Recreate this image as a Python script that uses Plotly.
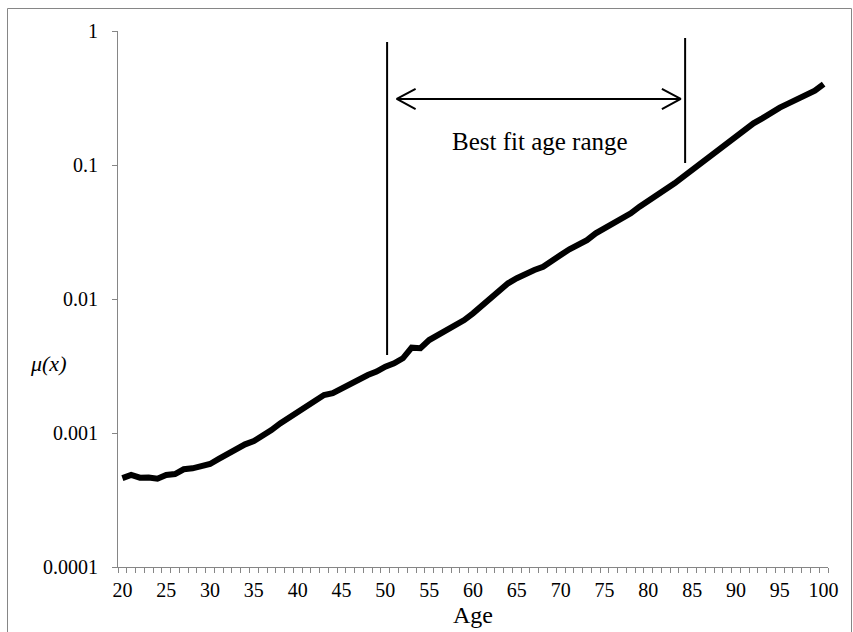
import math
import plotly.graph_objects as go

# ---- data ----
ages = list(range(20, 101))
mu = [
    4.61e-4, 4.86e-4, 4.64e-4, 4.66e-4, 4.56e-4, 4.86e-4, 4.94e-4, 5.36e-4, 5.45e-4, 5.67e-4,  # 20-29
    5.87e-4, 6.40e-4, 6.97e-4, 7.60e-4, 8.23e-4, 8.70e-4, 9.50e-4, 1.05e-3, 1.18e-3, 1.30e-3,  # 30-39
    1.43e-3, 1.58e-3, 1.73e-3, 1.92e-3, 1.98e-3, 2.15e-3, 2.28e-3, 2.49e-3, 2.71e-3, 2.87e-3,  # 40-49
    3.13e-3, 3.31e-3, 3.61e-3, 4.33e-3, 4.29e-3, 4.94e-3, 5.39e-3, 5.87e-3, 6.29e-3, 6.97e-3,  # 50-59
    7.82e-3, 8.90e-3, 9.80e-3, 1.12e-2, 1.31e-2, 1.43e-2, 1.555e-2, 1.645e-2, 1.74e-2, 1.95e-2,  # 60-69
    2.13e-2, 2.35e-2, 2.56e-2, 2.75e-2, 3.09e-2, 3.37e-2, 3.61e-2, 4.00e-2, 4.36e-2, 4.89e-2,  # 70-79
    5.39e-2, 5.92e-2, 6.50e-2, 7.30e-2, 8.18e-2, 9.18e-2, 0.104, 0.1153, 0.129, 0.145,  # 80-89
    0.1627, 0.1825, 0.2047, 0.2231, 0.2455, 0.268, 0.2884, 0.309, 0.333, 0.359,  # 90-99
    0.402,  # 100
]

x_tick_vals = list(range(20, 101, 5))
x_tick_text = [str(v) for v in x_tick_vals]
y_tick_vals = [0.0001, 0.001, 0.01, 0.1, 1]
y_tick_text = ["0.0001", "0.001", "0.01", "0.1", "1"]

# best-fit range markers
fit_start_age = 50.2
fit_end_age = 84.2
fit_start_span = [0.00382, 0.828]
fit_end_span = [0.1035, 0.887]
arrow_from = 51.3
arrow_to = 83.7
arrow_level = 0.311
label_text = "Best fit age range"
label_age = 67.6
label_level = 0.151

FONT = "Liberation Serif"
GRAY = "#868686"

fig = go.Figure()

fig.add_trace(go.Scatter(
    x=ages, y=mu, mode="lines",
    line=dict(color="black", width=6),
    showlegend=False, hoverinfo="skip",
))

# vertical range lines
fig.add_trace(go.Scatter(
    x=[fit_start_age, fit_start_age, None, fit_end_age, fit_end_age],
    y=[fit_start_span[0], fit_start_span[1], None, fit_end_span[0], fit_end_span[1]],
    mode="lines", line=dict(color="black", width=2),
    showlegend=False, hoverinfo="skip",
))

# double-headed arrow with open heads
head_dx = 2.15
head_f = 1.19
fig.add_trace(go.Scatter(
    x=[arrow_from + head_dx, arrow_from, arrow_from + head_dx, None,
       arrow_from, arrow_to, None,
       arrow_to - head_dx, arrow_to, arrow_to - head_dx],
    y=[arrow_level * head_f, arrow_level, arrow_level / head_f, None,
       arrow_level, arrow_level, None,
       arrow_level * head_f, arrow_level, arrow_level / head_f],
    mode="lines", line=dict(color="black", width=2),
    showlegend=False, hoverinfo="skip",
))

L, R, T, B = 118, 25, 31, 65
W, H = 853, 632
pw, ph = W - L - R, H - T - B

def px(xp):
    return (xp - L) / pw

def py(yp):
    return (H - B - yp) / ph

fig.update_layout(
    width=W, height=H,
    margin=dict(l=L, r=R, t=T, b=B, pad=0),
    paper_bgcolor="white", plot_bgcolor="white",
    font=dict(family=FONT, color="black"),
    xaxis=dict(
        range=[19.5, 100.5],
        tickmode="array", tickvals=x_tick_vals, ticktext=x_tick_text,
        ticks="outside", ticklen=5, tickcolor="rgba(0,0,0,0)",
        tickfont=dict(family=FONT, size=20, color="black"),
        showline=True, linecolor=GRAY, linewidth=1,
        showgrid=False, zeroline=False,
        minor=dict(tickmode="linear", tick0=19.5, dtick=1, ticks="outside",
                   ticklen=5, tickcolor=GRAY, tickwidth=1, showgrid=False),
    ),
    yaxis=dict(
        type="log", range=[-4, 0],
        tickmode="array", tickvals=y_tick_vals, ticktext=y_tick_text,
        ticks="outside", ticklen=5, tickcolor=GRAY, tickwidth=1,
        tickfont=dict(family=FONT, size=20, color="black"),
        ticklabelstandoff=10,
        showline=True, linecolor=GRAY, linewidth=1,
        showgrid=False, zeroline=False,
    ),
    shapes=[dict(
        type="rect", xref="paper", yref="paper",
        x0=px(7.5), x1=px(851.5), y0=py(645), y1=py(8.5),
        line=dict(color=GRAY, width=1), fillcolor="rgba(0,0,0,0)", layer="below",
    )],
    annotations=[
        dict(text="Age", xref="paper", yref="paper", x=0.5, y=py(615),
             xanchor="center", yanchor="middle", showarrow=False,
             font=dict(family=FONT, size=24, color="black")),
        dict(text="<i>μ(x)</i>", xref="paper", yref="paper", x=px(48), y=py(363),
             xanchor="center", yanchor="middle", showarrow=False,
             font=dict(family=FONT, size=22, color="black")),
        dict(text=label_text, xref="x", yref="y", x=label_age, y=math.log10(label_level),
             xanchor="center", yanchor="middle", showarrow=False,
             font=dict(family=FONT, size=25, color="black")),
    ],
)

fig.write_html("out.html")
